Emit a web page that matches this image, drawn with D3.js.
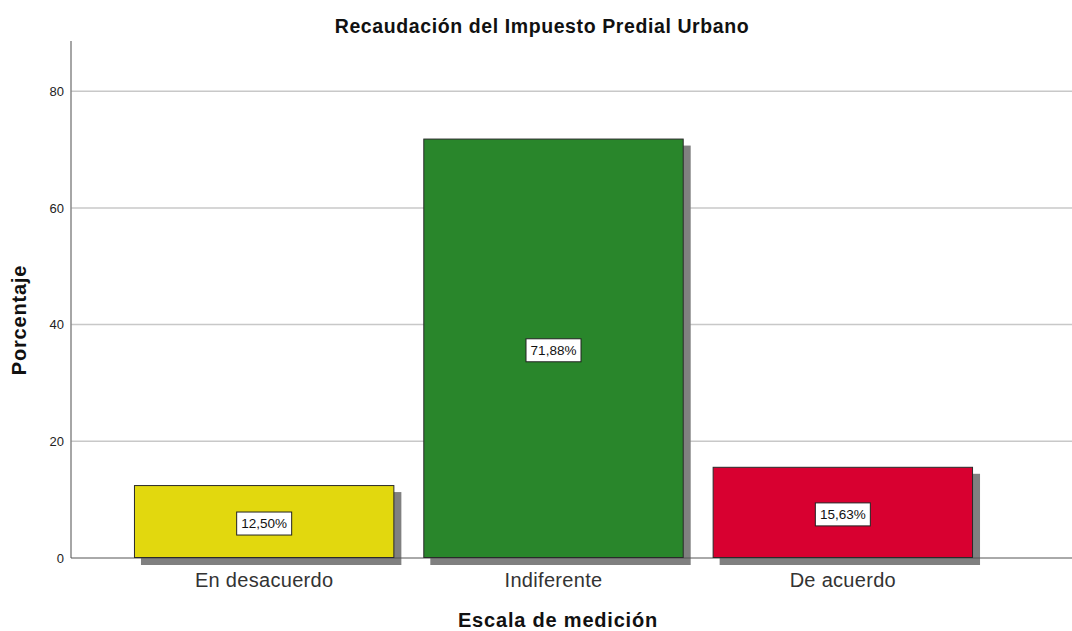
<!DOCTYPE html>
<html>
<head>
<meta charset="utf-8">
<script src="https://cdn.jsdelivr.net/npm/d3@7"></script>
<style>
  body { margin: 0; background: #fff; }
  text { font-family: "Liberation Sans", Arial, sans-serif; }
</style>
</head>
<body>
<div class="view1"></div>
<script>
// Chart data
const categories = ["En desacuerdo", "Indiferente", "De acuerdo"];
const values = [12.50, 71.88, 15.63];
const labels = ["12,50%", "71,88%", "15,63%"];
const colors = ["#e2d80e", "#29862b", "#d80030"];
const yTicks = [0, 20, 40, 60, 80];

const width = 1072, height = 631;
const plotLeft = 71, plotRight = 1072, plotTop = 41, plotBottom = 558;

let svg = d3.select(".view1").append("svg")
    .attr("width", width)
    .attr("height", height);

let y = d3.scaleLinear()
    .domain([0, 88.6])
    .range([plotBottom, plotTop]);

let x = d3.scaleBand()
    .domain(categories)
    .range([119.5, 987.5])
    .paddingInner(0.1)
    .paddingOuter(0.05);

// gridlines
svg.append("g")
    .selectAll("line")
    .data(yTicks.filter(d => d > 0))
    .enter().append("line")
    .attr("x1", plotLeft).attr("x2", plotRight)
    .attr("y1", d => y(d)).attr("y2", d => y(d))
    .attr("stroke", "#c8c8c8")
    .attr("stroke-width", 1.5);

// y axis
let yAxis = svg.append("g")
    .attr("transform", "translate(" + plotLeft + ",0)")
    .call(d3.axisLeft(y).tickValues(yTicks).tickSize(0).tickPadding(7));
yAxis.select(".domain").remove();
yAxis.selectAll("text")
    .attr("font-size", 13)
    .attr("fill", "#222")
    .style("font-family", "'Liberation Sans', Arial, sans-serif");

svg.append("line")
    .attr("x1", plotLeft).attr("x2", plotLeft)
    .attr("y1", plotTop).attr("y2", plotBottom)
    .attr("stroke", "#888").attr("stroke-width", 1.5);

// shadows
svg.append("g")
    .selectAll("rect")
    .data(values)
    .enter().append("rect")
    .attr("x", (d, i) => x(categories[i]) + 7)
    .attr("y", d => y(d) + 7)
    .attr("width", x.bandwidth())
    .attr("height", d => plotBottom - y(d))
    .attr("fill", "#808080");

// x axis baseline
svg.append("line")
    .attr("x1", plotLeft).attr("x2", plotRight)
    .attr("y1", plotBottom).attr("y2", plotBottom)
    .attr("stroke", "#555").attr("stroke-width", 1);

// bars
svg.append("g")
    .selectAll("rect")
    .data(values)
    .enter().append("rect")
    .attr("x", (d, i) => x(categories[i]) + 0.5)
    .attr("y", d => y(d) + 0.5)
    .attr("width", x.bandwidth() - 1)
    .attr("height", d => plotBottom - y(d) - 1)
    .attr("fill", (d, i) => colors[i])
    .attr("stroke", "#2a2a2a")
    .attr("stroke-width", 1);

// value labels
let lab = svg.append("g")
    .selectAll("g")
    .data(values)
    .enter().append("g")
    .attr("transform", (d, i) => "translate(" + (x(categories[i]) + x.bandwidth() / 2) + "," + ((y(d) + plotBottom) / 2 + 2) + ")");
lab.append("rect")
    .attr("x", -27.5).attr("y", -11.5)
    .attr("width", 55).attr("height", 23)
    .attr("fill", "#fff")
    .attr("stroke", "#222")
    .attr("stroke-width", 1);
lab.append("text")
    .attr("text-anchor", "middle")
    .attr("dy", "0.35em")
    .attr("font-size", 13.5)
    .attr("fill", "#111")
    .text((d, i) => labels[i]);

// category labels
svg.append("g")
    .selectAll("text")
    .data(categories)
    .enter().append("text")
    .attr("x", d => x(d) + x.bandwidth() / 2)
    .attr("y", 587)
    .attr("text-anchor", "middle")
    .attr("font-size", 20)
    .attr("letter-spacing", 0.3)
    .attr("fill", "#333")
    .text(d => d);

// titles
svg.append("text")
    .attr("x", 542).attr("y", 33)
    .attr("text-anchor", "middle")
    .attr("font-size", 19.5)
    .attr("font-weight", "bold")
    .attr("letter-spacing", 0.6)
    .attr("fill", "#111")
    .text("Recaudación del Impuesto Predial Urbano");

svg.append("text")
    .attr("x", 558).attr("y", 627)
    .attr("text-anchor", "middle")
    .attr("font-size", 20)
    .attr("font-weight", "bold")
    .attr("letter-spacing", 0.8)
    .attr("fill", "#111")
    .text("Escala de medición");

svg.append("text")
    .attr("transform", "translate(26,320) rotate(-90)")
    .attr("text-anchor", "middle")
    .attr("font-size", 20)
    .attr("font-weight", "bold")
    .attr("letter-spacing", 0.8)
    .attr("fill", "#111")
    .text("Porcentaje");
</script>
</body>
</html>
